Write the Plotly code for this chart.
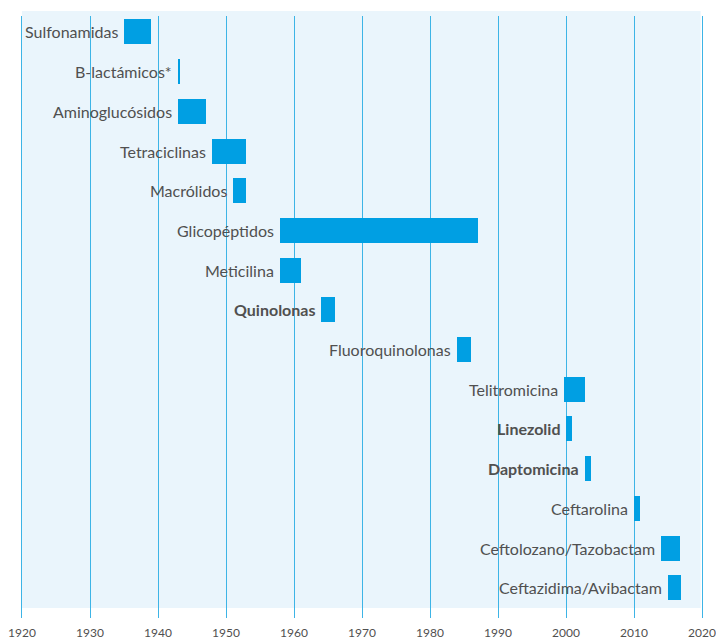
import plotly.graph_objects as go

categories = ["Sulfonamidas", "B-lactámicos*", "Aminoglucósidos", "Tetraciclinas", "Macrólidos",
              "Glicopéptidos", "Meticilina", "Quinolonas", "Fluoroquinolonas", "Telitromicina",
              "Linezolid", "Daptomicina", "Ceftarolina", "Ceftolozano/Tazobactam", "Ceftazidima/Avibactam"]
start_year = [1935, 1943, 1943, 1948, 1951, 1958, 1958, 1964, 1984, 1999.7, 2000, 2002.8, 2010, 2014, 2015]
end_year = [1939, 1943.15, 1947, 1953, 1953, 1987, 1961, 1966, 1986, 2002.8, 2000.9, 2003.7, 2010.9, 2016.8, 2016.9]
bold = [False, False, False, False, False, False, False, True, False, False, True, True, False, False, False]
tick_years = list(range(1920, 2021, 10))

BAR = "#009FE3"
GRID = "#3DB4E6"
TEXT = "#505050"
FONT = "Lato"

durations = [e - s for s, e in zip(start_year, end_year)]
ypos = list(range(len(categories)))

fig = go.Figure()
fig.add_trace(go.Bar(
    y=ypos, x=durations, base=start_year, orientation="h",
    marker=dict(color=BAR, line=dict(width=0)), width=0.63,
    hoverinfo="skip", showlegend=False,
))

for i, (name, s, b) in enumerate(zip(categories, start_year, bold)):
    fig.add_annotation(
        x=s, y=i, xref="x", yref="y", text=f"<b>{name}</b>" if b else name,
        showarrow=False, xanchor="right", yanchor="middle", xshift=-4,
        font=dict(family=FONT, size=16, color=TEXT),
    )

# light background panel (slightly offset from the grid area)
fig.add_shape(type="rect", xref="paper", yref="paper", x0=0, x1=0.998,
              y0=10 / 602, y1=1 + 5 / 602, fillcolor="#EAF5FC", line=dict(width=0), layer="below")

fig.update_layout(
    width=716, height=641,
    margin=dict(l=22, r=14, t=16, b=23, autoexpand=False),
    paper_bgcolor="white", plot_bgcolor="rgba(0,0,0,0)",
    bargap=0,
    xaxis=dict(range=[1920, 2020], tickvals=tick_years, ticktext=[str(t) for t in tick_years],
               showgrid=True, gridcolor=GRID, gridwidth=1.3, zeroline=False, showline=False,
               ticks="outside", ticklen=4, tickcolor="rgba(0,0,0,0)", automargin=False,
               ticklabeloverflow="allow",
               tickfont=dict(family=FONT, size=12, color=TEXT)),
    yaxis=dict(range=[14.76, -0.4], showticklabels=False, showgrid=False, zeroline=False,
               showline=True, linecolor=GRID, linewidth=1.3, mirror=True, ticks="", automargin=False),
    font=dict(family=FONT),
)

fig.write_html(
    "out.html",
    config={"displayModeBar": False},
    post_script="document.body.style.margin='0';document.documentElement.style.overflow='hidden';",
)
